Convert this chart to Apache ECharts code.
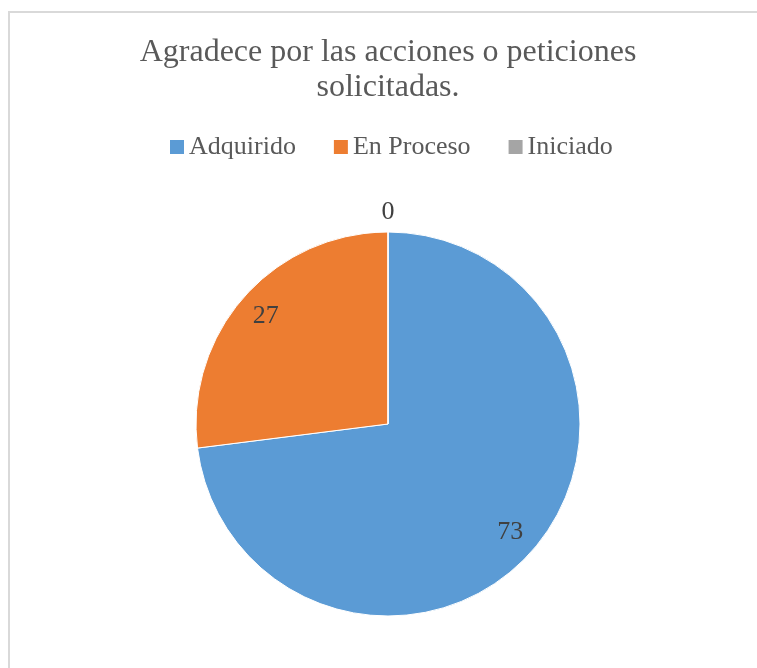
<!DOCTYPE html>
<html>
<head>
<meta charset="utf-8">
<script src="https://cdn.jsdelivr.net/npm/echarts@6/dist/echarts.min.js"></script>
<style>
    html, body { margin: 0; padding: 0; background: #fff; overflow: hidden; }
    #frame { position: absolute; left: 8px; top: 11px; width: 800px; height: 700px; border: 2px solid #d9d9d9; box-sizing: border-box; }
    #chart { position: absolute; left: 0; top: 0; width: 776px; height: 668px; }
</style>
</head>
<body>
<div id="frame"></div>
<div id="chart"></div>
<script>
let titleText = 'Agradece por las acciones o peticiones\nsolicitadas.';
let categories = ['Adquirido', 'En Proceso', 'Iniciado'];
let values = [73, 27, 0];
let colors = ['#5B9BD5', '#ED7D31', '#A5A5A5'];

let serif = '"Liberation Serif", "Times New Roman", serif';

// datos de la torta principal, sin etiquetas
let mainData = categories.map(function (name, i) {
    return { name: name, value: values[i], itemStyle: { color: colors[i] } };
});

// capas transparentes solo para colocar las etiquetas como en Excel
let innerLabels = categories.map(function (name, i) {
    return { name: name, value: values[i], label: { show: values[i] !== 0 } };
});
let outerLabels = categories.map(function (name, i) {
    return { name: name, value: values[i], label: { show: values[i] === 0 } };
});

let labelStyle = {
    position: 'inside',
    formatter: '{c}',
    fontFamily: serif,
    fontSize: 26,
    color: '#404040'
};

let myChart = echarts.init(document.getElementById('chart'));
let option = {
    animation: false,
    title: {
        text: titleText,
        left: 'center',
        top: 35,
        padding: 0,
        textStyle: {
            fontFamily: serif,
            fontSize: 32,
            fontWeight: 'normal',
            color: '#595959',
            lineHeight: 35
        }
    },
    legend: {
        data: categories,
        left: 170,
        top: 134,
        padding: 0,
        icon: 'rect',
        itemWidth: 14,
        itemHeight: 14,
        itemGap: 38,
        itemStyle: { borderWidth: 0 },
        textStyle: {
            fontFamily: serif,
            fontSize: 26,
            color: '#595959'
        }
    },
    series: [
        {
            type: 'pie',
            center: [388, 424],
            radius: 192,
            startAngle: 90,
            avoidLabelOverlap: false,
            label: { show: false },
            labelLine: { show: false },
            itemStyle: { borderColor: '#fff', borderWidth: 1 },
            emphasis: { disabled: true },
            data: mainData
        },
        {
            type: 'pie',
            center: [388, 424],
            radius: [128, 192],
            startAngle: 90,
            silent: true,
            avoidLabelOverlap: false,
            itemStyle: { color: 'rgba(0,0,0,0)' },
            label: labelStyle,
            labelLine: { show: false },
            emphasis: { disabled: true },
            data: innerLabels
        },
        {
            type: 'pie',
            center: [388, 424],
            radius: [200, 217],
            startAngle: 90,
            silent: true,
            avoidLabelOverlap: false,
            itemStyle: { color: 'rgba(0,0,0,0)' },
            label: labelStyle,
            labelLine: { show: false },
            emphasis: { disabled: true },
            data: outerLabels
        }
    ]
};

myChart.setOption(option, true);
</script>
</body>
</html>
